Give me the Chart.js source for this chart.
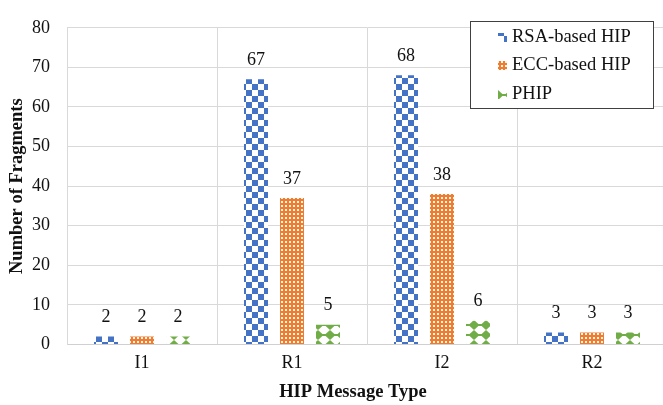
<!DOCTYPE html>
<html>
<head>
<meta charset="utf-8">
<script src="https://cdn.jsdelivr.net/npm/chart.js@4/dist/chart.umd.min.js"></script>
<style>
  html, body { margin: 0; padding: 0; background: #fff; overflow: hidden; }
  #wrap { position: relative; width: 667px; height: 405px; }
</style>
</head>
<body>
<div id="wrap"><canvas id="c" width="667" height="405"></canvas></div>
<script>
// Fragment counts per HIP message type
const categories = ['I1', 'R1', 'I2', 'R2'];
const seriesNames = ['RSA-based HIP', 'ECC-based HIP', 'PHIP'];
const rsaValues = [2, 67, 68, 3];
const eccValues = [2, 37, 38, 3];
const phipValues = [2, 5, 6, 3];
const yMin = 0, yMax = 80, yStep = 10;
const xTitle = 'HIP Message Type';
const yTitle = 'Number of Fragments';

const SERIF = "'Liberation Serif', 'Times New Roman', serif";
const TEXT = '#111';

// --- fill patterns -------------------------------------------------------
function tile(w, h, draw) {
  const c = document.createElement('canvas');
  c.width = w; c.height = h;
  const g = c.getContext('2d');
  draw(g, w, h);
  return document.getElementById('c').getContext('2d').createPattern(c, 'repeat');
}

// large checkerboard
const checkerBlue = tile(12, 12, (g) => {
  g.fillStyle = '#fff'; g.fillRect(0, 0, 12, 12);
  g.fillStyle = '#4472C4';
  g.fillRect(0, 0, 6, 6);
  g.fillRect(6, 6, 6, 6);
});

// orange lattice with small white holes
const latticeOrange = tile(4, 4, (g) => {
  g.fillStyle = '#ED7D31'; g.fillRect(0, 0, 4, 4);
  g.fillStyle = '#fdf1e8';
  g.fillRect(1, 1, 2, 2);
});

// green diamonds joined by a thin line
const diamondGreen = tile(12, 10, (g) => {
  g.fillStyle = '#fff'; g.fillRect(0, 0, 12, 10);
  g.fillStyle = '#70AD47';
  g.beginPath();
  g.moveTo(6, 0); g.lineTo(11.5, 5); g.lineTo(6, 10); g.lineTo(0.5, 5);
  g.closePath(); g.fill();
  g.fillRect(0, 4, 12, 2);
});

const fills = [checkerBlue, latticeOrange, diamondGreen];

// --- value labels above each bar ---------------------------------------
const valueLabels = {
  id: 'valueLabels',
  afterDatasetsDraw(chart) {
    const ctx = chart.ctx;
    ctx.save();
    ctx.font = '18px ' + SERIF;
    ctx.fillStyle = TEXT;
    ctx.textAlign = 'center';
    ctx.textBaseline = 'middle';
    chart.data.datasets.forEach((ds, di) => {
      chart.getDatasetMeta(di).data.forEach((bar, i) => {
        ctx.fillText(String(ds.data[i]), bar.x, bar.y - 19);
      });
    });
    ctx.restore();
  }
};

// --- x axis title, drawn under the category labels ----------------------
const axisCaption = {
  id: 'axisCaption',
  afterDraw(chart) {
    const ctx = chart.ctx;
    ctx.save();
    ctx.font = 'bold 18.5px ' + SERIF;
    ctx.fillStyle = TEXT;
    ctx.textAlign = 'center';
    ctx.textBaseline = 'middle';
    ctx.fillText(xTitle, 353, 392);
    ctx.restore();
  }
};

// --- boxed legend inside the plot area ----------------------------------
const boxedLegend = {
  id: 'boxedLegend',
  afterDraw(chart) {
    const ctx = chart.ctx;
    const x = 470.5, y = 21.5, w = 183, h = 87;
    ctx.save();
    ctx.fillStyle = '#fff';
    ctx.fillRect(x, y, w, h);
    ctx.strokeStyle = '#404040';
    ctx.lineWidth = 1;
    ctx.strokeRect(x, y, w, h);
    ctx.font = '18.5px ' + SERIF;
    ctx.textBaseline = 'middle';
    ctx.textAlign = 'left';
    const rows = [37, 65, 94];
    chart.data.datasets.forEach((ds, i) => {
      const cy = rows[i];
      ctx.fillStyle = ds.backgroundColor;
      ctx.fillRect(498, cy - 4, 9, 9);
      ctx.fillStyle = TEXT;
      ctx.fillText(ds.label, 512, cy);
    });
    ctx.restore();
  }
};

new Chart(document.getElementById('c'), {
  type: 'bar',
  data: {
    labels: categories,
    datasets: [
      { label: seriesNames[0], data: rsaValues, backgroundColor: fills[0] },
      { label: seriesNames[1], data: eccValues, backgroundColor: fills[1] },
      { label: seriesNames[2], data: phipValues, backgroundColor: fills[2] }
    ]
  },
  options: {
    responsive: false,
    animation: false,
    devicePixelRatio: 1,
    layout: { padding: { top: 18, right: 0, bottom: 0, left: 0 } },
    datasets: {
      bar: { categoryPercentage: 0.72, barPercentage: 0.667, borderWidth: 0 }
    },
    plugins: {
      legend: { display: false },
      tooltip: { enabled: false }
    },
    scales: {
      x: {
        grid: { color: '#d9d9d9', drawTicks: false, offset: true },
        border: { color: '#d0d0d0' },
        ticks: { color: TEXT, font: { family: SERIF, size: 18 }, padding: 8 },
        afterFit(s) { s.height = 60.5; }
      },
      y: {
        min: yMin, max: yMax,
        grid: { color: '#d9d9d9', drawTicks: false },
        border: { color: '#d9d9d9' },
        ticks: { stepSize: yStep, color: TEXT, font: { family: SERIF, size: 18 }, padding: 17 },
        title: {
          display: true, text: yTitle, color: TEXT,
          font: { family: SERIF, size: 18.5, weight: 'bold' },
          padding: { top: 6, bottom: 0 }
        },
        afterFit(s) { s.width = 67; }
      }
    }
  },
  plugins: [valueLabels, axisCaption, boxedLegend]
});
</script>
</body>
</html>
